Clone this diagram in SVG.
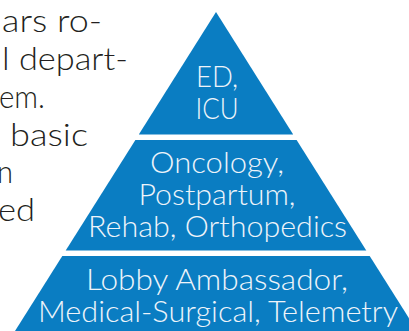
<svg xmlns="http://www.w3.org/2000/svg" width="409" height="331" viewBox="0 0 409 331">
<style>
.band{fill:#0a7dc2}
.lbl{font-family:"Lato","Open Sans","Liberation Sans",sans-serif;font-weight:300;font-size:29px;fill:#eef4fa;text-anchor:middle}
.body{font-family:"Lato","Open Sans","Liberation Sans",sans-serif;font-weight:300;font-size:31px;fill:#231f20;text-anchor:end}
</style>
<rect width="409" height="331" fill="#ffffff"/>
<g id="body-text">
<text class="body" x="102" y="32" textLength="100" lengthAdjust="spacingAndGlyphs">ars ro-</text>
<text class="body" x="128" y="70" textLength="126" lengthAdjust="spacingAndGlyphs">l depart-</text>
<text class="body" x="45" y="108" textLength="46" lengthAdjust="spacingAndGlyphs">em.</text>
<text class="body" x="88" y="146" textLength="78" lengthAdjust="spacingAndGlyphs">basic</text>
<text class="body" x="13" y="183" textLength="16" lengthAdjust="spacingAndGlyphs">n</text>
<text class="body" x="35" y="221" textLength="37" lengthAdjust="spacingAndGlyphs">ed</text>
</g>
<g id="tier-top">
<polygon class="band" points="216,12 138.8,134.5 293.2,134.5"/>
<text class="lbl" x="217" y="87" textLength="42" lengthAdjust="spacingAndGlyphs">ED,</text>
<text class="lbl" x="217" y="119" textLength="43" lengthAdjust="spacingAndGlyphs">ICU</text>
</g>
<g id="tier-middle">
<polygon class="band" points="135.4,140 296.6,140 366.3,250.5 65.7,250.5"/>
<text class="lbl" x="217" y="173" textLength="134" lengthAdjust="spacingAndGlyphs">Oncology,</text>
<text class="lbl" x="217" y="205" textLength="157" lengthAdjust="spacingAndGlyphs">Postpartum,</text>
<text class="lbl" x="217.5" y="237" textLength="259" lengthAdjust="spacingAndGlyphs">Rehab, Orthopedics</text>
</g>
<g id="tier-bottom">
<polygon class="band" points="62.3,256 369.7,256 417,331 15,331"/>
<text class="lbl" x="217" y="290" textLength="262" lengthAdjust="spacingAndGlyphs">Lobby Ambassador,</text>
<text class="lbl" x="218" y="321.5" textLength="360" lengthAdjust="spacingAndGlyphs">Medical-Surgical, Telemetry</text>
</g>
<g id="connectors"/>
</svg>
